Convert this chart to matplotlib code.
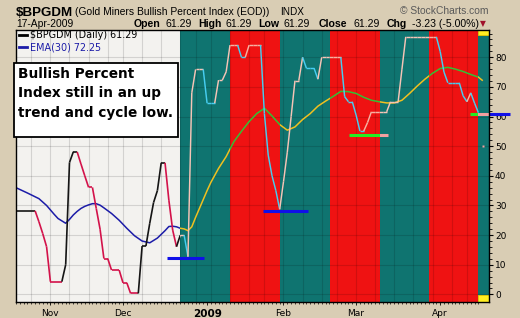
import numpy as np
import pandas as pd
import matplotlib
matplotlib.use("Agg")
import matplotlib.pyplot as plt
from matplotlib.patches import Rectangle
from matplotlib.collections import LineCollection
from matplotlib.lines import Line2D
from matplotlib.transforms import IdentityTransform

# ---------------- data ----------------
holidays = ["2008-11-27", "2008-12-25", "2009-01-01", "2009-01-19", "2009-02-16", "2009-04-10"]
start_date, end_date = "2008-10-21", "2009-04-17"

# daily Bullish Percent values (21-Oct-2008 .. 17-Apr-2009)
bpi = [28.2, 28.2, 28.2, 28.2, 28.2, 28.2, 24.5, 20.5, 16.1,          # Oct
       4.3, 4.3, 4.3, 4.3, 10.0, 44.5, 48.1, 48.1, 44.0, 40.0,        # Nov
       36.1, 36.1, 29.0, 22.0, 12.1, 12.1, 8.2, 8.2, 8.2,
       3.9, 3.9, 0.3, 0.3, 0.3, 16.3, 16.3, 24.0, 31.0, 35.0,         # Dec
       44.4, 44.4, 31.8, 21.7, 16.1, 20.0, 20.0, 12.7, 68.0, 75.9,
       75.9, 75.9,
       64.5, 64.5, 64.5, 72.3, 72.3, 75.1, 84.1, 84.1, 84.1, 80.0,    # Jan
       80.0, 84.1, 84.1, 84.1, 84.1, 61.0, 47.0, 40.0, 35.0, 28.7,
       38.0, 48.0, 60.0, 72.1, 72.1, 80.0, 76.3, 76.3, 76.3, 72.6,    # Feb
       80.0, 80.0, 80.0, 80.0, 80.0, 80.0, 66.7, 65.0, 65.0,
       60.5, 55.1, 55.1, 58.0, 61.6, 61.6, 61.6, 61.6, 61.6, 65.0,    # Mar
       65.0, 65.0, 76.0, 86.9, 86.9, 86.9, 86.9, 86.9, 86.9, 86.9,
       86.9, 86.9,
       82.0, 75.0, 71.4, 71.4, 71.4, 71.4, 67.0, 65.0, 68.0, 64.52,   # Apr
       61.29, ]

# EMA(30) read at selected trading days (0 = 3-Nov-2008)
ema_day = [-9, -6, -3, -1, 1, 2, 4, 5, 6, 7, 8, 9, 10, 11, 12, 13, 14, 16, 18, 20,
           22, 24, 26, 28, 30, 31, 32, 33, 34, 35, 36, 37, 38, 39, 40, 41, 42, 44,
           46, 48, 50, 52, 54, 56, 58, 60, 62, 64, 66, 68, 70, 72, 74, 76, 78, 80,
           82, 84, 86, 88, 90, 92, 94, 96, 98, 100, 102, 104, 106, 108, 110, 112, 113]
ema_val = [36.0, 34.2, 32.3, 30.0, 27.0, 25.6, 24.0, 25.3, 26.8, 28.0, 29.0, 29.7, 30.2,
           30.6, 30.6, 30.1, 29.2, 27.3, 25.0, 22.3, 19.8, 18.0, 17.4, 19.0, 21.5, 22.9,
           23.0, 22.8, 22.3, 22.1, 21.5, 22.8, 26.0, 29.0, 32.0, 35.0, 37.8, 42.5, 46.5,
           51.5, 55.0, 58.3, 61.0, 62.8, 60.2, 57.3, 55.4, 56.5, 59.0, 61.0, 63.5, 65.2,
           66.8, 68.5, 68.4, 67.8, 66.5, 65.5, 65.0, 64.6, 64.6, 65.5, 67.8, 70.3, 72.6,
           74.6, 76.2, 76.6, 76.0, 75.2, 74.2, 73.3, 72.25]

# shaded cycle bands (trading-day units) and their kind
band_edges = [-8.75, 33.8, 47.0, 60.0, 73.1, 86.2, 99.2, 112.0, 114.7]
band_kind = ["plain", "teal", "red", "teal", "red", "teal", "red", "teal"]

# support lines drawn on the chart: level, from day, to day
support_level = [12.4, 28.2, 53.8, 60.85]
support_from = [30.6, 55.7, 78.1, 109.9]
support_to = [40.2, 67.5, 88.3, 120.3]

month_labels = ["Nov", "Dec", "2009", "Feb", "Mar", "Apr"]
yticks = [0, 10, 20, 30, 40, 50, 60, 70, 80]

legend_bpi = "\\$BPGDM (Daily) 61.29"
legend_ema = "EMA(30) 72.25"
note_lines = ["Bullish Percent", "Index still in an up", "trend and cycle low."]

# ---------------- calendar ----------------
days = pd.bdate_range(start_date, end_date)
days = days[~days.isin(pd.to_datetime(holidays))]
offset = list(days).index(pd.Timestamp("2008-11-03"))
xday = np.arange(len(days)) - offset
bpi = np.array(bpi[:len(days)])
xday = xday[:len(bpi)]

month_first = []
for i, d in enumerate(days):
    if i > 0 and d.month != days[i - 1].month:
        month_first.append(xday[i])
week_first = []
for i, d in enumerate(days):
    if i > 0 and d.isocalendar()[1] != days[i - 1].isocalendar()[1]:
        week_first.append(xday[i])

# ---------------- styling ----------------
BG = "#d9cdb4"
PLOT_BG = "#f3f2ef"
TEAL = "#0f7470"
RED = "#ef1212"
FONT = "DejaVu Sans"
ARIAL = "Liberation Sans"

fig = plt.figure(figsize=(5.2, 3.18), dpi=100, facecolor=BG)
ax = fig.add_axes([16 / 520, 16.5 / 318, (488.7 - 16) / 520, (301.5 - 30) / 318])
ax.set_facecolor(PLOT_BG)
XL = (band_edges[0], band_edges[-1])
YL = (-2.4, 89.2)
ax.set_xlim(*XL)
ax.set_ylim(*YL)

band_color = {"teal": TEAL, "red": RED}
for k, kind in enumerate(band_kind):
    if kind in band_color:
        ax.axvspan(band_edges[k], band_edges[k + 1], color=band_color[kind], lw=0, zorder=0.5)

# grid
for w in week_first:
    ax.axvline(w, color="black", alpha=0.13, lw=0.8, zorder=1)
for yv in yticks:
    ax.axhline(yv, color="black", alpha=0.13, lw=0.8, zorder=1)

# yellow corner markers
ax.add_patch(Rectangle((112.0, 87.6), 2.7, 1.6, fc="#ffee22", ec="#e8c800", lw=0.6, zorder=2))
ax.add_patch(Rectangle((112.0, -2.4), 2.7, 2.2, fc="#ffee22", ec="#e8c800", lw=0.6, zorder=2))


def band_clip(k):
    r = Rectangle((band_edges[k], YL[0]), band_edges[k + 1] - band_edges[k], YL[1] - YL[0],
                  transform=ax.transData, fill=False, lw=0)
    return r


# BPI line coloured by direction and band
state = []
cur = 1
for j in range(1, len(bpi)):
    dv = bpi[j] - bpi[j - 1]
    if dv > 0:
        cur = 1
    elif dv < 0:
        cur = -1
    state.append(cur)
segs = [[(xday[j - 1], bpi[j - 1]), (xday[j], bpi[j])] for j in range(1, len(bpi))]
pal = {"plain": {1: "#151515", -1: "#d3124a"},
       "teal": {1: "#f6c4b6", -1: "#46cdf0"},
       "red": {1: "#f6b2a2", -1: "#46cdf0"}}
for k, kind in enumerate(band_kind):
    cols = [pal[kind][s] for s in state]
    lc = LineCollection(segs, colors=cols, linewidths=1.2 if kind == "plain" else 1.05, zorder=4)
    ax.add_collection(lc)
    lc.set_clip_path(band_clip(k))

# EMA line coloured by band
ema_col = {"plain": "#1c1ca8", "teal": "#f0c020", "red": "#34c034"}
for k, kind in enumerate(band_kind):
    ln, = ax.plot(ema_day, ema_val, color=ema_col[kind], lw=1.1, zorder=3)
    ln.set_clip_path(band_clip(k))

# support lines
BLUE = "#1010e8"
for n in range(2):
    ax.plot([support_from[n], support_to[n]], [support_level[n]] * 2, color=BLUE, lw=2.2,
            zorder=5, solid_capstyle="butt")
hl_col = {"plain": BLUE, "teal": "#f4a0a0", "red": "#22ee22"}
for n in range(2, 4):
    for k, kind in enumerate(band_kind):
        ln, = ax.plot([support_from[n], min(support_to[n], XL[1])], [support_level[n]] * 2,
                      color=hl_col[kind], lw=2.2, zorder=5, solid_capstyle="butt")
        ln.set_clip_path(band_clip(k))
    if support_to[n] > XL[1]:
        ax.plot([XL[1], support_to[n]], [support_level[n]] * 2, color=BLUE, lw=2.2,
                zorder=6, clip_on=False, solid_capstyle="butt")
ax.plot([113.2], [50], marker="s", ms=1.8, color="#f4a0a0", mec="none", zorder=5)

# axes / ticks
for s in ax.spines.values():
    s.set_color("black")
    s.set_linewidth(1.0)
    s.set_zorder(7)
ax.yaxis.tick_right()
ax.set_yticks(yticks)
ax.set_yticks(np.arange(0, 89, 2), minor=True)
ax.set_yticklabels([str(v) for v in yticks], fontsize=6.5, family=FONT)
ax.tick_params(axis="y", which="major", length=3, width=0.8, pad=1.5, direction="out")
ax.tick_params(axis="y", which="minor", length=1.8, width=0.6, direction="out")
ax.set_xticks(month_first)
ax.set_xticklabels(month_labels, fontsize=6.5, family=FONT)
for lab in ax.get_xticklabels():
    if lab.get_text() == "2009":
        lab.set_fontweight("bold")
        lab.set_fontsize(7.5)
ax.set_xticks(xday, minor=True)
ax.tick_params(axis="x", which="major", length=2.5, width=0.6, pad=3, direction="out")
ax.tick_params(axis="x", which="minor", length=1.5, width=0.5, direction="out")

# ---------------- text (pixel coordinates) ----------------
H = 318
px = IdentityTransform()


def t(x, ytop_base, s, **kw):
    fig.text(x, H - ytop_base, s, transform=px, va="baseline", **kw)


t(16, 15.5, "\\$BPGDM", fontsize=9.6, fontweight="bold", family=ARIAL, color="black")
t(75, 15.0, "(Gold Miners Bullish Percent Index (EOD))", fontsize=7.4, family=ARIAL, color="black")
t(280, 15.0, "INDX", fontsize=7.2, family=ARIAL, color="black")
t(488, 14.5, "\u00a9 StockCharts.com", fontsize=7.4, family=ARIAL, color="#5a5a5a", ha="right")
t(16, 27.0, "17-Apr-2009", fontsize=7.4, family=ARIAL, color="black")

pieces = [(133.3, "Open", True), (165.7, "61.29", False), (198.0, "High", True),
          (225.0, "61.29", False), (258.7, "Low", True), (283.0, "61.29", False),
          (319.0, "Close", True), (353.0, "61.29", False), (386.7, "Chg", True),
          (411.7, "-3.23 (-5.00%)", False)]
for xx, s, b in pieces:
    t(xx, 27.0, s, fontsize=7.6, family=ARIAL, fontweight="bold" if b else "normal", color="black")
t(480, 26.5, "\u25bc", fontsize=5.5, family=FONT, color="#a0102a")

# legend
fig.add_artist(Line2D([19, 27], [H - 35, H - 35], transform=px, color="black", lw=2))
t(30, 38.5, legend_bpi, fontsize=6.9, family=FONT, color="black")
fig.add_artist(Line2D([19, 27], [H - 46.5, H - 46.5], transform=px, color="#1c1ca8", lw=2))
t(30, 50.0, legend_ema, fontsize=6.9, family=FONT, color="#1c1ca8")

# annotation box
fig.add_artist(Rectangle((14, H - 137), 164, 74, transform=px, fc="white", ec="black", lw=1.3,
                         zorder=10))
for n, s in enumerate(note_lines):
    fig.text(17.5, H - (77.5 + 19.7 * n), s, transform=px, va="baseline", fontsize=9.8,
             fontweight="bold", family=FONT, color="black", zorder=11)

fig.savefig("out.png", dpi=100, facecolor=BG)
